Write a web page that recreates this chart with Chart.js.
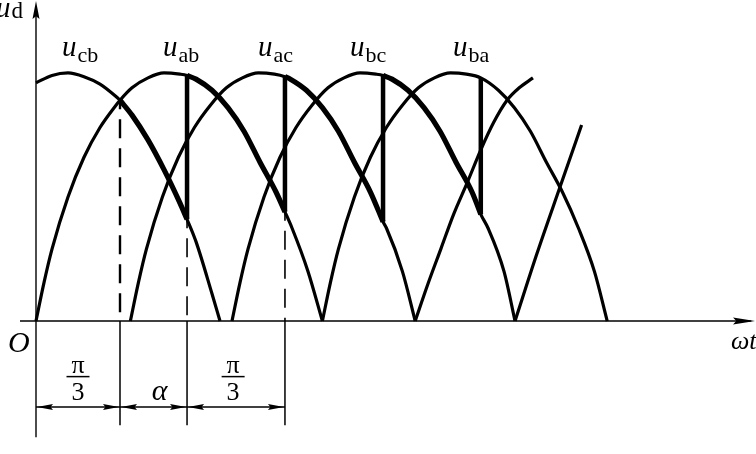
<!DOCTYPE html>
<html>
<head>
<meta charset="utf-8">
<script src="https://cdn.jsdelivr.net/npm/chart.js@4.4.1/dist/chart.umd.min.js"></script>
<style>
  html, body { margin: 0; padding: 0; background: #fff; }
  canvas { display: block; }
</style>
</head>
<body>
<canvas id="chart" width="756" height="454"></canvas>
<script>
// Line voltages: [ωt in degrees, voltage / peak]
const ucb = [[0, 0.96], [10, 0.99], [20, 1.0], [30, 0.985], [40, 0.955], [50, 0.905], [52.5, 0.89], [60, 0.83], [70, 0.73],
             [80, 0.61], [90, 0.475], [94.4, 0.41], [100, 0.32], [110, 0.11], [115, 0]];
const uab = [[0, 0], [5, 0.155], [10, 0.29], [20, 0.5], [30, 0.66], [40, 0.78], [50, 0.87], [52.5, 0.89], [60, 0.94], [70, 0.98],
             [80, 1.0], [90, 0.995], [94.4, 0.99], [100, 0.975], [110, 0.93], [120, 0.86], [130, 0.765], [140, 0.64], [150, 0.52],
             [155.6, 0.44], [160, 0.375], [170, 0.2], [179, 0]];
const uac = [[59, 0], [64, 0.155], [69, 0.29], [79, 0.5], [89, 0.66], [99, 0.78], [109, 0.87], [119, 0.94], [129, 0.98],
             [139, 1.0], [149, 0.995], [155.6, 0.985], [159, 0.975], [169, 0.93], [179, 0.86], [189, 0.765], [199, 0.64],
             [209, 0.52], [216.9, 0.4], [219, 0.375], [229, 0.2], [237, 0]];
const ubc = [[122.5, 0], [127.5, 0.155], [132.5, 0.29], [142.5, 0.5], [152.5, 0.66], [162.5, 0.78], [172.5, 0.87], [182.5, 0.94],
             [192.5, 0.98], [202.5, 1.0], [212.5, 0.995], [216.9, 0.99], [222.5, 0.975], [232.5, 0.93], [242.5, 0.86],
             [252.5, 0.765], [262.5, 0.64], [272.5, 0.52], [278, 0.43], [282.5, 0.375], [292.5, 0.2], [299.4, 0]];
const uba = [[179, 0], [184, 0.155], [189, 0.29], [199, 0.5], [209, 0.66], [219, 0.78], [229, 0.87], [239, 0.94], [249, 0.98],
             [259, 1.0], [269, 0.995], [278, 0.98], [289, 0.93], [299, 0.86], [309, 0.765], [319, 0.64], [329, 0.52],
             [339, 0.375], [349, 0.2], [357, 0]];
const uca = [[237, 0], [245, 0.15], [253, 0.29], [261, 0.43], [269.4, 0.556], [278, 0.69], [286, 0.8], [294.4, 0.89],
             [302, 0.94], [310.6, 0.98]];
const ucb2 = [[299.4, 0], [313, 0.27], [327.5, 0.54], [341, 0.79]];

const arcs = [ucb, uab, uac, ubc, uba, uca, ucb2];
const arcNames = ['cb', 'ab', 'ac', 'bc', 'ba'];

// natural commutation point and firing angles (degrees)
const commutation = 52.5;
const firing = [94.4, 155.6, 216.9, 278];
const dimLevel = -0.347;

const X_MIN = -22.5, X_MAX = 450, Y_MIN = -0.536, Y_MAX = 1.294;

function pts(arr) {
    return arr.map(p => ({ x: p[0], y: p[1] }));
}

function valueAt(arr, deg) {
    const p = arr.find(q => q[0] === deg);
    return p ? p[1] : 0;
}

function line(data, width, extra) {
    return Object.assign({
        data: data,
        borderColor: '#000',
        borderWidth: width,
        pointRadius: 0,
        fill: false,
        tension: 0,
        clip: false
    }, extra || {});
}

const datasets = [];

// axes
datasets.push(line([{ x: -10, y: 0 }, { x: 447, y: 0 }], 1.4));
datasets.push(line([{ x: 0, y: -0.468 }, { x: 0, y: 1.26 }], 1.4));

// thin full arcs
arcs.forEach(a => datasets.push(line(pts(a), 3.2, { cubicInterpolationMode: 'monotone' })));

// output voltage u_d (thick)
const starts = [commutation].concat(firing.slice(0, -1));
firing.forEach((end, i) => {
    const arc = arcs[i];
    const seg = arc.filter(p => p[0] >= starts[i] && p[0] <= end);
    datasets.push(line(pts(seg), 5.2, { cubicInterpolationMode: 'monotone' }));
    const next = arcs[i + 1];
    datasets.push(line([{ x: end, y: valueAt(arc, end) }, { x: end, y: valueAt(next, end) }], 4.5));
});

// dashed drop lines and solid extension lines below the axis
const markers = [commutation, firing[0], firing[1]];
markers.forEach((deg, i) => {
    const top = i === 0 ? valueAt(ucb, deg) : valueAt(arcs[i - 1], deg);
    datasets.push(line([{ x: deg, y: top }, { x: deg, y: 0 }], i === 0 ? 2.4 : 1.6, { borderDash: [19, 10], borderDashOffset: 10 }));
    datasets.push(line([{ x: deg, y: 0 }, { x: deg, y: -0.42 }], 1.5));
});

// dimension lines
const dimEdges = [0].concat(markers);
for (let i = 0; i < dimEdges.length - 1; i++) {
    datasets.push(line([{ x: dimEdges[i], y: dimLevel }, { x: dimEdges[i + 1], y: dimLevel }], 1.5));
}

function arrowHead(ctx, tx, ty, dx, dy, len, half) {
    const bx = tx - dx * len, by = ty - dy * len;
    ctx.beginPath();
    ctx.moveTo(tx, ty);
    ctx.lineTo(bx - dy * half, by + dx * half);
    ctx.lineTo(bx + dx * len * 0.15, by + dy * len * 0.15);
    ctx.lineTo(bx + dy * half, by - dx * half);
    ctx.closePath();
    ctx.fill();
}

function subLabel(ctx, x, y, main, sub, mainFont, subFont, dy) {
    ctx.font = mainFont;
    ctx.fillText(main, x, y);
    const w = ctx.measureText(main).width;
    ctx.font = subFont;
    ctx.fillText(sub, x + w + 1, y + dy);
}

const decorPlugin = {
    id: 'decor',
    beforeDraw(chart) {
        const ctx = chart.ctx;
        ctx.save();
        ctx.fillStyle = '#fff';
        ctx.fillRect(0, 0, chart.width, chart.height);
        ctx.restore();
    },
    afterDatasetsDraw(chart) {
        const ctx = chart.ctx;
        const xs = chart.scales.x, ys = chart.scales.y;
        const px = v => xs.getPixelForValue(v);
        const py = v => ys.getPixelForValue(v);
        ctx.save();
        ctx.fillStyle = '#000';
        ctx.strokeStyle = '#000';

        // axis arrows
        arrowHead(ctx, px(X_MAX) - 1, py(0), 1, 0, 22, 3.5);
        arrowHead(ctx, px(0), py(Y_MAX) + 1, 0, -1, 18, 3.5);

        // dimension arrows
        for (let i = 0; i < dimEdges.length - 1; i++) {
            const a = px(dimEdges[i]) + 1, b = px(dimEdges[i + 1]) - 1, y = py(dimLevel);
            arrowHead(ctx, a, y, -1, 0, 16, 3);
            arrowHead(ctx, b, y, 1, 0, 16, 3);
        }

        ctx.textBaseline = 'alphabetic';
        ctx.textAlign = 'left';
        const serif = '"Liberation Serif", "DejaVu Serif", serif';

        // curve names
        const labelAt = [16.25, 79.4, 138.75, 196.25, 260.6];
        arcNames.forEach((name, i) => {
            subLabel(ctx, px(labelAt[i]), py(1.069), 'u', name, 'italic 29px ' + serif, '22px ' + serif, 6);
        });

        // axis names
        subLabel(ctx, px(0) - 40, py(Y_MAX) + 17, 'u', 'd', 'italic 29px ' + serif, '23px ' + serif, 1);
        ctx.font = 'italic 30px ' + serif;
        ctx.fillText('O', px(0) - 28, py(0) + 31);
        ctx.font = 'italic 26px ' + serif;
        ctx.fillText('\u03c9t', px(X_MAX) - 25, py(0) + 28);

        // interval labels
        ctx.textAlign = 'center';
        const fracAt = [dimEdges[0] + (dimEdges[1] - dimEdges[0]) / 2, dimEdges[2] + (dimEdges[3] - dimEdges[2]) / 2 - 1.8];
        fracAt.forEach(deg => {
            const cx = px(deg), yb = py(dimLevel);
            ctx.font = '26px ' + serif;
            ctx.fillText('\u03c0', cx, yb - 34);
            ctx.fillText('3', cx, yb - 7);
            ctx.lineWidth = 1.5;
            ctx.beginPath();
            ctx.moveTo(cx - 11.5, yb - 30.5);
            ctx.lineTo(cx + 11.5, yb - 30.5);
            ctx.stroke();
        });
        ctx.font = 'italic 30px ' + serif;
        ctx.fillText('\u03b1', px((dimEdges[1] + dimEdges[2]) / 2) + 6, py(dimLevel) - 7);
        ctx.restore();
    }
};

new Chart(document.getElementById('chart'), {
    type: 'line',
    data: { datasets: datasets },
    options: {
        responsive: false,
        animation: false,
        devicePixelRatio: 1,
        layout: { padding: 0 },
        plugins: { legend: { display: false }, tooltip: { enabled: false } },
        scales: {
            x: { type: 'linear', min: X_MIN, max: X_MAX, display: false },
            y: { type: 'linear', min: Y_MIN, max: Y_MAX, display: false }
        }
    },
    plugins: [decorPlugin]
});
</script>
</body>
</html>
